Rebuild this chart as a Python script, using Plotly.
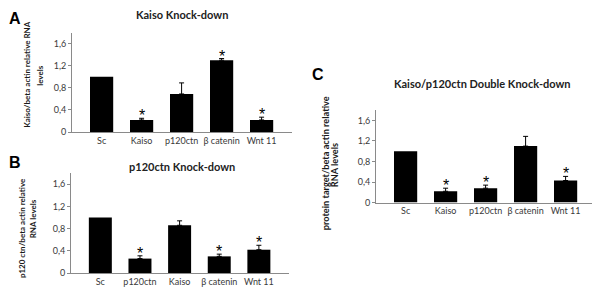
import plotly.graph_objects as go

# ---- data ----
cats_a = ["Sc", "Kaiso", "p120ctn", "β catenin", "Wnt 11"]
vals_a = [1.0, 0.22, 0.69, 1.30, 0.22]
err_a = [0.0, 0.03, 0.20, 0.03, 0.05]
star_a = [False, True, False, True, True]

cats_b = ["Sc", "p120ctn", "Kaiso", "β catenin", "Wnt 11"]
vals_b = [1.0, 0.26, 0.86, 0.30, 0.42]
err_b = [0.0, 0.05, 0.08, 0.04, 0.08]
star_b = [False, True, False, True, True]

cats_c = ["Sc", "Kaiso", "p120ctn", "β catenin", "Wnt 11"]
vals_c = [1.0, 0.22, 0.28, 1.10, 0.43]
err_c = [0.0, 0.06, 0.06, 0.19, 0.08]
star_c = [False, True, True, False, True]

tick_vals = [0, 0.4, 0.8, 1.2, 1.6]
tick_text = ["0", "0,4", "0,8", "1,2", "1,6"]

titles = ["Kaiso Knock-down", "p120ctn Knock-down", "Kaiso/p120ctn Double Knock-down"]
ytitle_lines = [["Kaiso/beta actin relative RNA", "levels"],
                ["p120 ctn/beta actin relative", "RNA levels"],
                ["protein target/beta actin relative", "RNA levels"]]
letters = ["A", "B", "C"]

# page body has an 8px default margin: compensate so the figure fits the 600x297 window
OFF = 8
W, H = 600 - OFF, 297 - OFF

# ---- layout geometry (pixels in the 600x297 window) ----
panels = [
    dict(x0=72, x1=292, y0=33, y1=134.3, title_xy=(182, 15), yt_pos=[(27, 76), (40, 77)], letter_xy=(15, 8), yt_size=8),
    dict(x0=71, x1=289, y0=176, y1=277.7, title_xy=(182, 169), yt_pos=[(22, 232), (33, 223)], letter_xy=(15, 155), yt_size=8),
    dict(x0=376, x1=596, y0=112, y1=206, title_xy=(482, 85), yt_pos=[(325, 166), (334, 168)], letter_xy=(318, 65), yt_size=9.2),
]

def px(x):
    return (x - OFF) / W

def py(y):
    return 1 - (y - OFF) / H

FONT = "Lato"
TICKCOL = "#3a3a3a"
AXCOL = "#8a8a8a"

fig = go.Figure()
data = [(cats_a, vals_a, err_a, star_a), (cats_b, vals_b, err_b, star_b), (cats_c, vals_c, err_c, star_c)]

annotations = []
for i, ((cats, vals, errs, stars), p) in enumerate(zip(data, panels)):
    n = i + 1
    xa = "x" if n == 1 else f"x{n}"
    ya = "y" if n == 1 else f"y{n}"
    xs = list(range(len(cats)))
    fig.add_trace(go.Bar(
        x=xs, y=vals, xaxis=xa, yaxis=ya, width=0.58,
        marker=dict(color="black", line=dict(width=0)),
        showlegend=False, hoverinfo="skip",
    ))
    ex = [x for x, e in zip(xs, errs) if e > 0]
    ey = [v for v, e in zip(vals, errs) if e > 0]
    ee = [e for e in errs if e > 0]
    fig.add_trace(go.Scatter(
        x=ex, y=ey, xaxis=xa, yaxis=ya, mode="markers",
        marker=dict(size=0.1, color="rgba(0,0,0,0)"),
        error_y=dict(type="data", array=ee, arrayminus=[0] * len(ee), symmetric=False,
                     color="black", thickness=1, width=2.5),
        showlegend=False, hoverinfo="skip",
    ))
    xkey = "xaxis" if n == 1 else f"xaxis{n}"
    ykey = "yaxis" if n == 1 else f"yaxis{n}"
    fig.layout[xkey] = dict(
        domain=[px(p["x0"]), px(p["x1"])], anchor=ya, range=[-0.74, 4.76],
        tickmode="array", tickvals=xs, ticktext=cats, showgrid=False, zeroline=False,
        showline=True, linecolor=AXCOL, linewidth=1, ticks="",
        tickfont=dict(family=FONT, size=9, color=TICKCOL), fixedrange=True,
    )
    fig.layout[ykey] = dict(
        domain=[py(p["y1"]), py(p["y0"])], anchor=xa, range=[0, 1.8],
        tickmode="array", tickvals=tick_vals, ticktext=tick_text, showgrid=False, zeroline=False,
        showline=True, linecolor=AXCOL, linewidth=1, ticks="outside", ticklen=3, tickcolor=AXCOL,
        tickfont=dict(family=FONT, size=9, color=TICKCOL), fixedrange=True,
    )
    for x, v, e, s in zip(xs, vals, errs, stars):
        if s:
            annotations.append(dict(
                x=x, y=v + e, xref=xa, yref=ya, text="*", showarrow=False,
                xanchor="center", yanchor="bottom", yshift=-8,
                font=dict(family="Arial", size=16, color="black"),
            ))
    annotations.append(dict(
        x=px(p["title_xy"][0]), y=py(p["title_xy"][1]), xref="paper", yref="paper",
        text=f"<b>{titles[i]}</b>", showarrow=False, xanchor="center", yanchor="middle",
        font=dict(family=FONT, size=11, color="#222222"),
    ))
    for line, (lx, ly) in zip(ytitle_lines[i], p["yt_pos"]):
        annotations.append(dict(
            x=px(lx), y=py(ly), xref="paper", yref="paper",
            text=f"<b>{line}</b>", showarrow=False, xanchor="center", yanchor="middle",
            textangle=-90, font=dict(family=FONT, size=p["yt_size"], color="#1a1a1a"),
        ))
    annotations.append(dict(
        x=px(p["letter_xy"][0]), y=py(p["letter_xy"][1]), xref="paper", yref="paper",
        text=f"<b>{letters[i]}</b>", showarrow=False, xanchor="center", yanchor="top",
        font=dict(family="Arial", size=16, color="black"),
    ))

fig.update_layout(
    width=W, height=H, margin=dict(l=0, r=0, t=0, b=0),
    paper_bgcolor="white", plot_bgcolor="white",
    annotations=annotations,
)

fig.write_html("out.html")
